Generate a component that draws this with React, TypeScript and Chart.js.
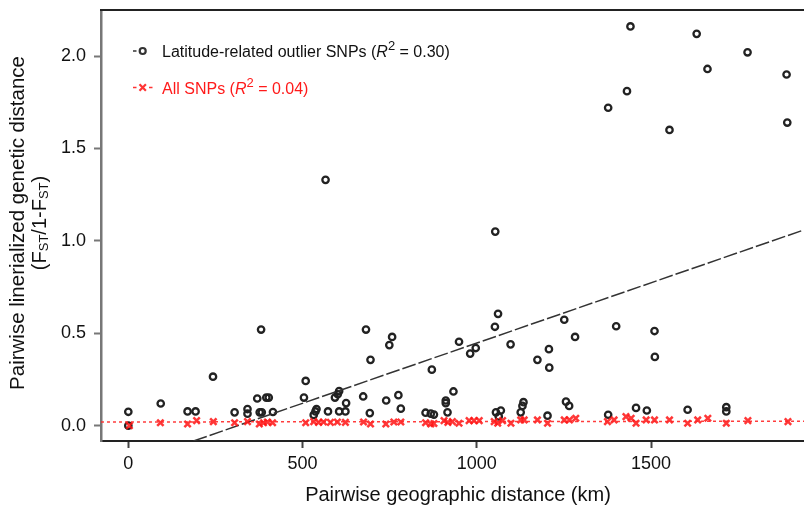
import React, { useEffect, useRef } from "react";
import { Chart, registerables } from "chart.js";

Chart.register(...registerables);

// Latitude-related outlier SNPs: pairwise geographic distance (km) and linearized FST
const outlierKm = [0, 0, 93, 170, 193, 243, 305, 342, 342, 381, 377, 383, 370, 396, 403, 415, 509, 504, 540, 537, 532, 566, 573, 605, 601, 593, 625, 605, 623, 682, 695, 674, 693, 757, 749, 740, 775, 782, 871, 853, 868, 877, 911, 911, 916, 933, 949, 997, 981, 1061, 1052, 1053, 1097, 1251, 1282, 1207, 1174, 1208, 1400, 1510, 1511, 1055, 1069, 1063, 1134, 1131, 1126, 1203, 1256, 1265, 1377, 1457, 1488, 1605, 1716, 1716, 1441, 1631, 1777, 1662, 1889, 1431, 1377, 1553, 1891];
const outlierFst = [0.075, 0.0, 0.12, 0.077, 0.077, 0.265, 0.072, 0.09, 0.065, 0.52, 0.072, 0.072, 0.147, 0.152, 0.152, 0.074, 0.242, 0.152, 0.09, 0.077, 0.058, 1.33, 0.077, 0.187, 0.17, 0.152, 0.122, 0.077, 0.077, 0.52, 0.356, 0.158, 0.068, 0.48, 0.436, 0.136, 0.165, 0.092, 0.303, 0.07, 0.065, 0.06, 0.136, 0.122, 0.072, 0.185, 0.454, 0.42, 0.39, 0.605, 0.535, 1.05, 0.44, 0.573, 0.48, 0.414, 0.356, 0.314, 0.538, 0.512, 0.372, 0.072, 0.082, 0.05, 0.127, 0.107, 0.072, 0.054, 0.13, 0.107, 0.059, 0.096, 0.082, 0.086, 0.1, 0.077, 2.16, 2.12, 2.02, 1.93, 1.9, 1.81, 1.72, 1.6, 1.64];

// All SNPs
const allKm = [3, 92, 170, 196, 244, 305, 342, 376, 388, 399, 414, 509, 532, 546, 560, 580, 600, 623, 675, 695, 739, 762, 782, 853, 868, 877, 917, 906, 930, 949, 978, 992, 1007, 1050, 1060, 1074, 1098, 1126, 1136, 1174, 1203, 1251, 1266, 1284, 1375, 1394, 1428, 1443, 1457, 1486, 1510, 1553, 1605, 1634, 1663, 1716, 1778, 1893];
const allFst = [0.0, 0.016, 0.009, 0.027, 0.022, 0.016, 0.022, 0.009, 0.016, 0.02, 0.016, 0.016, 0.022, 0.018, 0.02, 0.018, 0.02, 0.018, 0.02, 0.009, 0.009, 0.02, 0.02, 0.016, 0.009, 0.012, 0.018, 0.027, 0.022, 0.013, 0.027, 0.027, 0.027, 0.022, 0.013, 0.027, 0.013, 0.031, 0.031, 0.031, 0.013, 0.031, 0.031, 0.04, 0.022, 0.031, 0.049, 0.04, 0.013, 0.031, 0.031, 0.031, 0.013, 0.031, 0.04, 0.013, 0.027, 0.022];

// Linear fits (intercept, slope)
const outlierFit = [-0.205, 0.000652];
const allFit = [0.02, 0.000002];

const xTicks = [0, 500, 1000, 1500];
const yTicks = [0, 0.5, 1.0, 1.5, 2.0];
const X_MIN = -78.4;
const X_MAX = 1939;
const Y_MIN = -0.083;
const Y_MAX = 2.249;

const legendOutlier = "Latitude-related outlier SNPs (";
const legendAll = "All SNPs (";
const r2Outlier = " = 0.30)";
const r2All = " = 0.04)";
const xTitle = "Pairwise geographic distance (km)";
const yTitle1 = "Pairwise linerialized genetic distance";

const FONT = "'Liberation Sans', Arial, Helvetica, sans-serif";

type Run = { t: string; size: number; style?: string; dy?: number };

function drawRuns(ctx: CanvasRenderingContext2D, runs: Run[], x: number, y: number, align: "left" | "center", color: string) {
  let total = 0;
  const widths = runs.map((r) => {
    ctx.font = `${r.style || ""} ${r.size}px ${FONT}`;
    const w = ctx.measureText(r.t).width;
    total += w;
    return w;
  });
  let cx = align === "center" ? x - total / 2 : x;
  ctx.fillStyle = color;
  ctx.textBaseline = "middle";
  ctx.textAlign = "left";
  runs.forEach((r, i) => {
    ctx.font = `${r.style || ""} ${r.size}px ${FONT}`;
    ctx.fillText(r.t, cx, y + (r.dy || 0));
    cx += widths[i];
  });
}

const overlay = {
  id: "overlay",
  afterDraw(chart: any) {
    const ctx: CanvasRenderingContext2D = chart.ctx;
    const { left, right, top } = chart.chartArea;
    ctx.save();
    // top frame line
    ctx.strokeStyle = "#222";
    ctx.lineWidth = 2;
    ctx.beginPath();
    ctx.moveTo(left - 1, top);
    ctx.lineTo(right, top);
    ctx.stroke();

    // legend row 1
    ctx.strokeStyle = "#333";
    ctx.lineWidth = 1.5;
    ctx.beginPath();
    ctx.moveTo(133, 51);
    ctx.lineTo(136.5, 51);
    ctx.stroke();
    ctx.lineWidth = 2.2;
    ctx.beginPath();
    ctx.arc(142.7, 51, 3, 0, Math.PI * 2);
    ctx.stroke();
    drawRuns(ctx, [
      { t: legendOutlier, size: 16 },
      { t: "R", size: 16, style: "italic" },
      { t: "2", size: 13, dy: -7 },
      { t: r2Outlier, size: 16 },
    ], 162, 53, "left", "#111");

    // legend row 2
    ctx.strokeStyle = "rgba(255,30,30,0.9)";
    ctx.lineWidth = 1.5;
    ctx.beginPath();
    ctx.moveTo(133, 87.5); ctx.lineTo(136.5, 87.5);
    ctx.moveTo(149, 87.5); ctx.lineTo(152.5, 87.5);
    ctx.stroke();
    ctx.lineWidth = 2.2;
    ctx.beginPath();
    ctx.moveTo(139.5, 84.3); ctx.lineTo(145.9, 90.7);
    ctx.moveTo(145.9, 84.3); ctx.lineTo(139.5, 90.7);
    ctx.stroke();
    drawRuns(ctx, [
      { t: legendAll, size: 16 },
      { t: "R", size: 16, style: "italic" },
      { t: "2", size: 13, dy: -7 },
      { t: r2All, size: 16 },
    ], 162, 90, "left", "#ff1a1a");

    // x title
    drawRuns(ctx, [{ t: xTitle, size: 20 }], 458, 495, "center", "#111");

    // y title
    ctx.save();
    ctx.translate(18, 223);
    ctx.rotate(-Math.PI / 2);
    drawRuns(ctx, [{ t: yTitle1, size: 20.5 }], 0, 0, "center", "#111");
    ctx.restore();
    ctx.save();
    ctx.translate(40, 223);
    ctx.rotate(-Math.PI / 2);
    drawRuns(ctx, [
      { t: "(F", size: 20 },
      { t: "ST", size: 13, dy: 4 },
      { t: "/1-F", size: 20 },
      { t: "ST", size: 13, dy: 4 },
      { t: ")", size: 20 },
    ], 0, 0, "center", "#111");
    ctx.restore();
    ctx.restore();
  },
};

export default function App() {
  const ref = useRef<HTMLCanvasElement>(null);
  useEffect(() => {
    if (!ref.current) return;
    const outlierPts = outlierKm.map((x, i) => ({ x, y: outlierFst[i] }));
    const allPts = allKm.map((x, i) => ({ x, y: allFst[i] }));
    const oStart = (Y_MIN - outlierFit[0]) / outlierFit[1];
    const outlierLine = [oStart, X_MAX].map((x) => ({ x, y: outlierFit[0] + outlierFit[1] * x }));
    const allLine = [X_MIN, X_MAX].map((x) => ({ x, y: allFit[0] + allFit[1] * x }));

    const chart = new Chart(ref.current, {
      type: "scatter",
      data: {
        datasets: [
          {
            label: "All SNPs fit",
            data: allLine,
            showLine: true,
            pointRadius: 0,
            borderColor: "rgba(255,40,40,0.9)",
            borderWidth: 1.5,
            borderDash: [3, 3],
          },
          {
            label: "All SNPs",
            data: allPts,
            pointStyle: "crossRot",
            pointRadius: 4.5,
            borderColor: "rgba(255,20,20,0.85)",
            pointBorderWidth: 2.5,
            backgroundColor: "transparent",
          },
          {
            label: "Outlier fit",
            data: outlierLine,
            showLine: true,
            pointRadius: 0,
            borderColor: "#333",
            borderWidth: 1.5,
            borderDash: [14, 3],
          },
          {
            label: "Latitude-related outlier SNPs",
            data: outlierPts,
            pointStyle: "circle",
            pointRadius: 3.2,
            borderColor: "#222",
            pointBorderWidth: 2.3,
            backgroundColor: "transparent",
          },
        ],
      },
      options: {
        responsive: false,
        animation: false,
        layout: { autoPadding: false, padding: { top: 10, right: 0, left: 0, bottom: 0 } },
        plugins: { legend: { display: false }, tooltip: { enabled: false }, title: { display: false } },
        scales: {
          x: {
            type: "linear",
            min: X_MIN,
            max: X_MAX,
            afterBuildTicks: (s: any) => { s.ticks = xTicks.map((v) => ({ value: v })); },
            afterFit: (s: any) => { s.height = 67; s.paddingLeft = 0; s.paddingRight = 0; },
            grid: { drawOnChartArea: false, drawTicks: true, tickLength: 7, tickWidth: 2, tickColor: "#444" },
            border: { display: true, color: "#222", width: 2 },
            ticks: { font: { family: FONT, size: 18 }, color: "#111", padding: 5, maxRotation: 0, callback: (v: any) => String(v) },
          },
          y: {
            type: "linear",
            min: Y_MIN,
            max: Y_MAX,
            afterBuildTicks: (s: any) => { s.ticks = yTicks.map((v) => ({ value: v })); },
            afterFit: (s: any) => { s.width = 101; s.paddingTop = 0; s.paddingBottom = 0; },
            grid: { drawOnChartArea: false, drawTicks: true, tickLength: 7, tickWidth: 2, tickColor: "#777" },
            border: { display: true, color: "#777", width: 2.5 },
            ticks: { font: { family: FONT, size: 18 }, color: "#111", padding: 8, callback: (v: any) => Number(v).toFixed(1) },
          },
        },
      },
      plugins: [overlay],
    });
    return () => chart.destroy();
  }, []);

  return (
    <div style={{ position: "fixed", left: 0, top: 0, width: 804, height: 508, background: "#fff" }}>
      <canvas ref={ref} width={804} height={508} style={{ display: "block" }} />
    </div>
  );
}
